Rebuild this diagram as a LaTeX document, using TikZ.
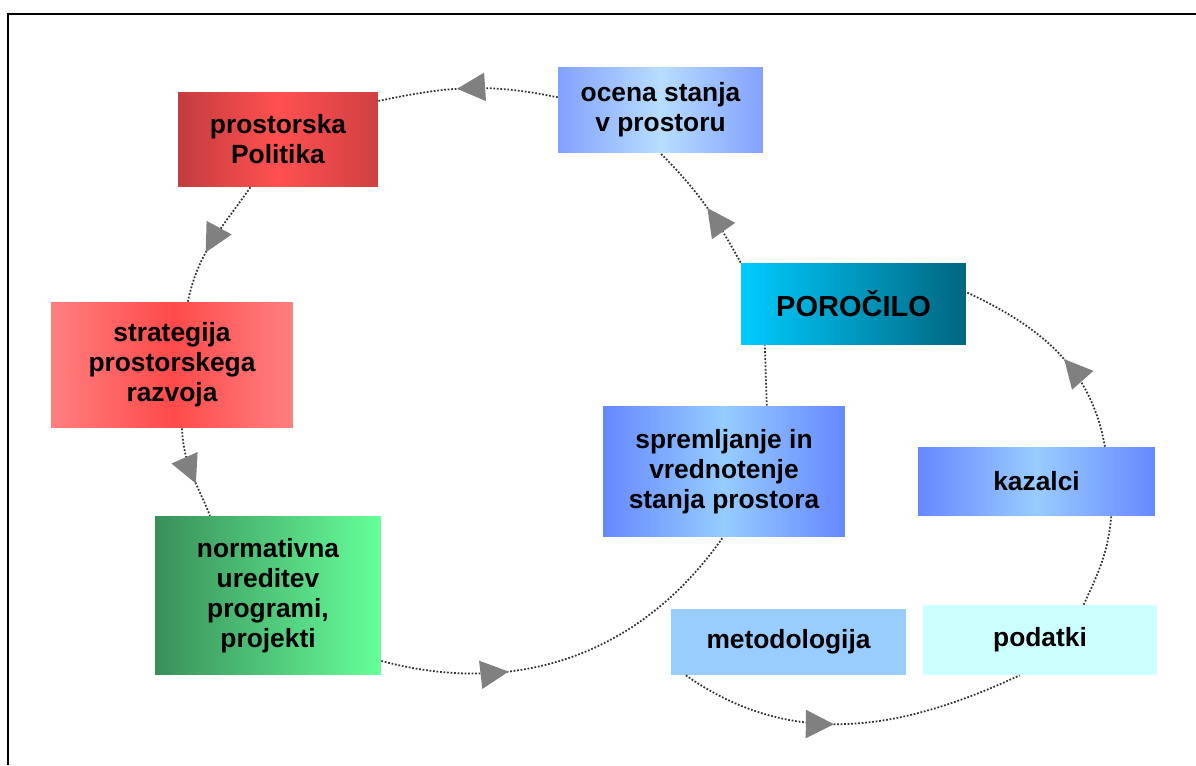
\documentclass[tikz,border=0pt]{standalone}
\usepackage{fontspec}
\setmainfont{Liberation Sans}
\usetikzlibrary{arrows.meta,decorations.markings}

\definecolor{arrowgray}{HTML}{808080}
\definecolor{reddark}{HTML}{C33C3E}
\definecolor{redbright}{HTML}{FF5050}
\definecolor{redlight}{HTML}{FF7F7F}
\definecolor{redmid}{HTML}{FF4A4A}
\definecolor{bluepale}{HTML}{82A2FF}
\definecolor{bluesky}{HTML}{B8DDFF}
\definecolor{bluedeep}{HTML}{6688FF}
\definecolor{bluesoft}{HTML}{96CCFF}
\definecolor{cyanbright}{HTML}{00CCFF}
\definecolor{tealdark}{HTML}{006680}
\definecolor{greendark}{HTML}{3A8F5A}
\definecolor{greenlight}{HTML}{66FF99}
\definecolor{metoblue}{HTML}{99CCFF}
\definecolor{podcyan}{HTML}{CCFFFF}

\begin{document}
\begin{tikzpicture}[x=0.02cm, y=0.02cm,
    box/.style={rectangle, inner sep=0pt, align=center,
                font=\fontsize{15}{17}\selectfont\bfseries},
    link/.style={densely dotted, line width=1pt, black!80},
    flow/.style={link, postaction={decorate},
                 decoration={markings, mark=at position #1 with
                   {\arrow{Triangle[length=16pt,width=16pt,color=arrowgray]}}}}]
  \useasboundingbox (0,0) rectangle (1196,765);
  % frame
  \draw[line width=1.7pt] (8,0) -- (8,751) -- (1196,751);

  % left cycle
  \node[box, minimum width=4cm, minimum height=1.9cm,
        left color=reddark, right color=reddark!80!redbright, middle color=redbright]
        (politika) at (278,625.5) {prostorska\\Politika};
  \node[box, minimum width=4.1cm, minimum height=1.72cm,
        left color=bluepale, right color=bluepale, middle color=bluesky]
        (ocena) at (660.5,655) {ocena stanja\\v prostoru};
  \node[box, minimum width=4.84cm, minimum height=2.52cm,
        left color=redlight, right color=redlight, middle color=redmid]
        (strategija) at (172,400) {strategija\\prostorskega\\razvoja};
  \node[box, minimum width=4.52cm, minimum height=3.18cm,
        left color=greendark, right color=greenlight, middle color=greendark!50!greenlight]
        (normativna) at (268,169.5) {normativna\\ureditev\\programi,\\projekti};
  \node[box, minimum width=4.84cm, minimum height=2.62cm,
        left color=bluedeep, right color=bluedeep, middle color=bluesoft]
        (spremljanje) at (724,293.5) {spremljanje in\\vrednotenje\\stanja prostora};
  \node[box, minimum width=4.5cm, minimum height=1.64cm,
        font=\fontsize{16.5}{18}\selectfont\bfseries,
        left color=cyanbright, right color=tealdark, middle color=cyanbright!50!tealdark]
        (porocilo) at (853.5,461) {POROČILO};

  % right cycle
  \node[box, minimum width=4.74cm, minimum height=1.38cm,
        left color=bluedeep, right color=bluedeep, middle color=metoblue]
        (kazalci) at (1036.5,283.5) {kazalci};
  \node[box, minimum width=4.7cm, minimum height=1.32cm, fill=metoblue]
        (metodologija) at (788.5,123) {metodologija};
  \node[box, minimum width=4.68cm, minimum height=1.4cm, fill=podcyan]
        (podatki) at (1040,125) {podatki};

  % connectors
  \draw[flow=0.56] (ocena.173) to[out=168, in=12] (politika.21);
  \draw[flow=0.6] (politika.240) to[out=235, in=78] (strategija.76);
  \draw[flow=0.62] (strategija.279) to[out=272, in=112] (normativna.126);
  \draw[flow=0.33] (normativna.330) to[out=-15, in=235] (spremljanje.269);
  \draw[link] (spremljanje.57) -- (porocilo.205);
  \draw[flow=0.47] (porocilo.north west) to[out=119, in=-45] (ocena.south);
  \draw[flow=0.45] (kazalci.27) to[out=100, in=-25] (porocilo.6);
  \draw[link] (podatki.39) to[out=65, in=265] (kazalci.335);
  \draw[flow=0.45] (metodologija.198) to[out=-35, in=205] (podatki.240);
\end{tikzpicture}
\end{document}
